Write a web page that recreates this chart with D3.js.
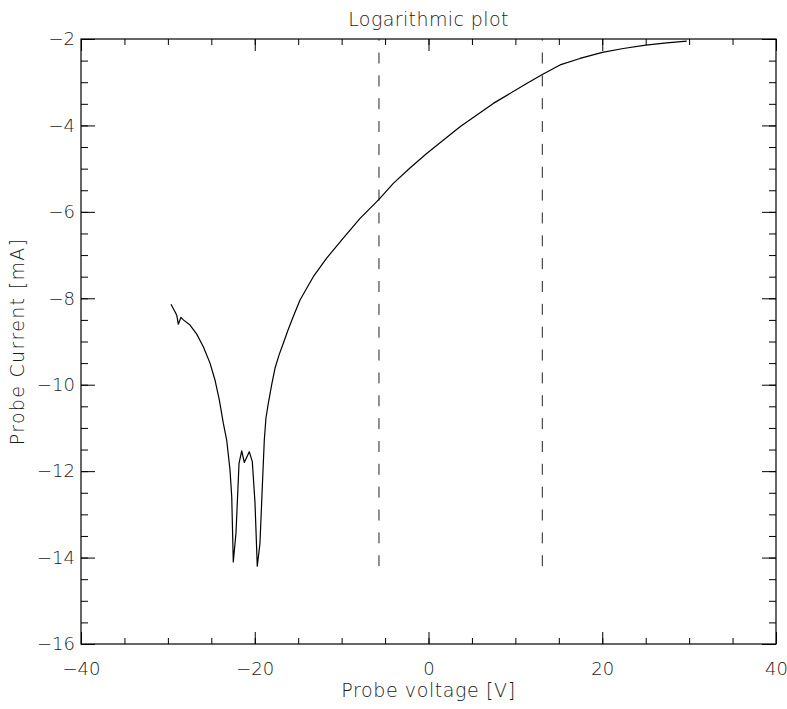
<!DOCTYPE html>
<html>
<head>
<meta charset="utf-8">
<script src="https://cdn.jsdelivr.net/npm/d3@7"></script>
<style>
  html, body { margin: 0; padding: 0; background: #fff; }
  svg { display: block; }
  text { font-family: "DejaVu Sans", sans-serif; font-weight: 200; fill: #1a1a1a; }
</style>
</head>
<body>
<script>
// Probe I-V characteristic (log current vs. bias voltage)
const voltage = [
  -29.64, -29.18, -28.98, -28.80, -28.49, -28.22, -27.45, -26.68, -25.92, -25.15,
  -24.58, -24.08, -23.62, -23.23, -22.85, -22.65, -22.47, -22.16, -21.81, -21.50,
  -21.20, -20.63, -20.28, -19.97, -19.71, -19.40, -19.13, -18.90, -18.71, -18.44,
  -18.05, -17.67, -17.20, -16.71, -16.20, -15.68, -14.79, -13.26, -11.72, -9.81,
  -7.88, -5.70, -4.05, -2.10, -0.21, 3.63, 7.46, 11.30, 13.10, 15.14,
  17.44, 20.01, 22.42, 25.00, 27.42, 29.72
];
const current = [
  -8.14, -8.31, -8.39, -8.60, -8.44, -8.50, -8.62, -8.83, -9.12, -9.50,
  -9.89, -10.35, -10.89, -11.28, -11.97, -12.59, -14.10, -13.43, -11.82, -11.53,
  -11.80, -11.55, -11.78, -12.74, -14.20, -13.67, -12.36, -11.28, -10.77, -10.43,
  -10.00, -9.62, -9.31, -9.04, -8.75, -8.48, -8.04, -7.50, -7.07, -6.61,
  -6.15, -5.71, -5.34, -4.98, -4.65, -4.03, -3.49, -3.03, -2.82, -2.60,
  -2.45, -2.31, -2.22, -2.14, -2.09, -2.05
];

// Vertical marker voltages and the current span they cover
const markerVoltages = [-5.70, 13.10];
const markerSpan = [-14.20, -2.00];

const xDomain = [-40, 40];
const yDomain = [-16, -2];
const xMajorTicks = [-40, -20, 0, 20, 40];
const xMinorTicks = d3.range(-40, 40.01, 5);
const yMajorTicks = [-16, -14, -12, -10, -8, -6, -4, -2];
const yMinorTicks = d3.range(-16, -1.99, 0.5);

const titleText = "Logarithmic plot";
const xLabelText = "Probe voltage [V]";
const yLabelText = "Probe Current [mA]";

const W = 787, H = 709;
const plotLeft = 81, plotRight = 776, plotTop = 39, plotBottom = 644;

const svg = d3.select("body").append("svg").attr("width", W).attr("height", H);

const x = d3.scaleLinear().domain(xDomain).range([plotLeft, plotRight]);
const y = d3.scaleLinear().domain(yDomain).range([plotBottom, plotTop]);

const plotH = plotBottom - plotTop, plotW = plotRight - plotLeft;
const xTickLen = Math.round(0.02 * plotH);
const yTickLen = Math.round(0.02 * plotW);
const fontSize = 18;

function styleAxis(g) {
  g.select(".domain").remove();
  g.selectAll(".tick line").attr("stroke", "#000").attr("stroke-width", 1);
  g.selectAll(".tick text").style("font-size", fontSize + "px")
    .style("font-family", "'DejaVu Sans', sans-serif").style("font-weight", 200)
    .attr("fill", "#1a1a1a");
}

// Bottom axis
svg.append("g").attr("transform", `translate(0,${plotBottom})`)
  .call(d3.axisBottom(x).tickValues(xMinorTicks).tickSize(-xTickLen / 2).tickFormat(""))
  .call(styleAxis);
svg.append("g").attr("transform", `translate(0,${plotBottom})`)
  .call(d3.axisBottom(x).tickValues(xMajorTicks).tickSize(-xTickLen).tickPadding(18).tickFormat(d3.format("d")))
  .call(styleAxis);

// Top axis (ticks only)
svg.append("g").attr("transform", `translate(0,${plotTop})`)
  .call(d3.axisTop(x).tickValues(xMinorTicks).tickSize(-xTickLen / 2).tickFormat(""))
  .call(styleAxis);
svg.append("g").attr("transform", `translate(0,${plotTop})`)
  .call(d3.axisTop(x).tickValues(xMajorTicks).tickSize(-xTickLen).tickFormat(""))
  .call(styleAxis);

// Left axis
svg.append("g").attr("transform", `translate(${plotLeft},0)`)
  .call(d3.axisLeft(y).tickValues(yMinorTicks).tickSize(-yTickLen / 2).tickFormat(""))
  .call(styleAxis);
svg.append("g").attr("transform", `translate(${plotLeft},0)`)
  .call(d3.axisLeft(y).tickValues(yMajorTicks).tickSize(-yTickLen).tickPadding(6).tickFormat(d3.format("d")))
  .call(styleAxis);

// Right axis (ticks only)
svg.append("g").attr("transform", `translate(${plotRight},0)`)
  .call(d3.axisRight(y).tickValues(yMinorTicks).tickSize(-yTickLen / 2).tickFormat(""))
  .call(styleAxis);
svg.append("g").attr("transform", `translate(${plotRight},0)`)
  .call(d3.axisRight(y).tickValues(yMajorTicks).tickSize(-yTickLen).tickFormat(""))
  .call(styleAxis);

// Frame
svg.append("rect")
  .attr("x", plotLeft).attr("y", plotTop).attr("width", plotW).attr("height", plotH)
  .attr("fill", "none").attr("stroke", "#000").attr("stroke-width", 1.2);

// Dashed markers, drawn upward from the lower end
svg.append("g").selectAll("line").data(markerVoltages).join("line")
  .attr("x1", d => x(d)).attr("x2", d => x(d))
  .attr("y1", y(markerSpan[0])).attr("y2", y(markerSpan[1]))
  .attr("stroke", "#222").attr("stroke-width", 1)
  .attr("stroke-dasharray", "11,11.85");

// I-V curve
const pts = voltage.map((v, i) => [v, current[i]]);
svg.append("path").datum(pts)
  .attr("fill", "none").attr("stroke", "#000").attr("stroke-width", 1.2)
  .attr("stroke-linejoin", "round")
  .attr("d", d3.line().x(d => x(d[0])).y(d => y(d[1])));

// Titles
svg.append("text").attr("x", (plotLeft + plotRight) / 2).attr("y", 26)
  .attr("text-anchor", "middle").style("font-size", "19px")
  .style("letter-spacing", "0.4px").text(titleText);
svg.append("text").attr("x", (plotLeft + plotRight) / 2).attr("y", 697)
  .attr("text-anchor", "middle").style("font-size", "19px")
  .style("letter-spacing", "0.6px").text(xLabelText);
svg.append("text")
  .attr("transform", `translate(24,${(plotTop + plotBottom) / 2}) rotate(-90)`)
  .attr("text-anchor", "middle").style("font-size", "19px")
  .style("letter-spacing", "1.3px").text(yLabelText);
</script>
</body>
</html>
